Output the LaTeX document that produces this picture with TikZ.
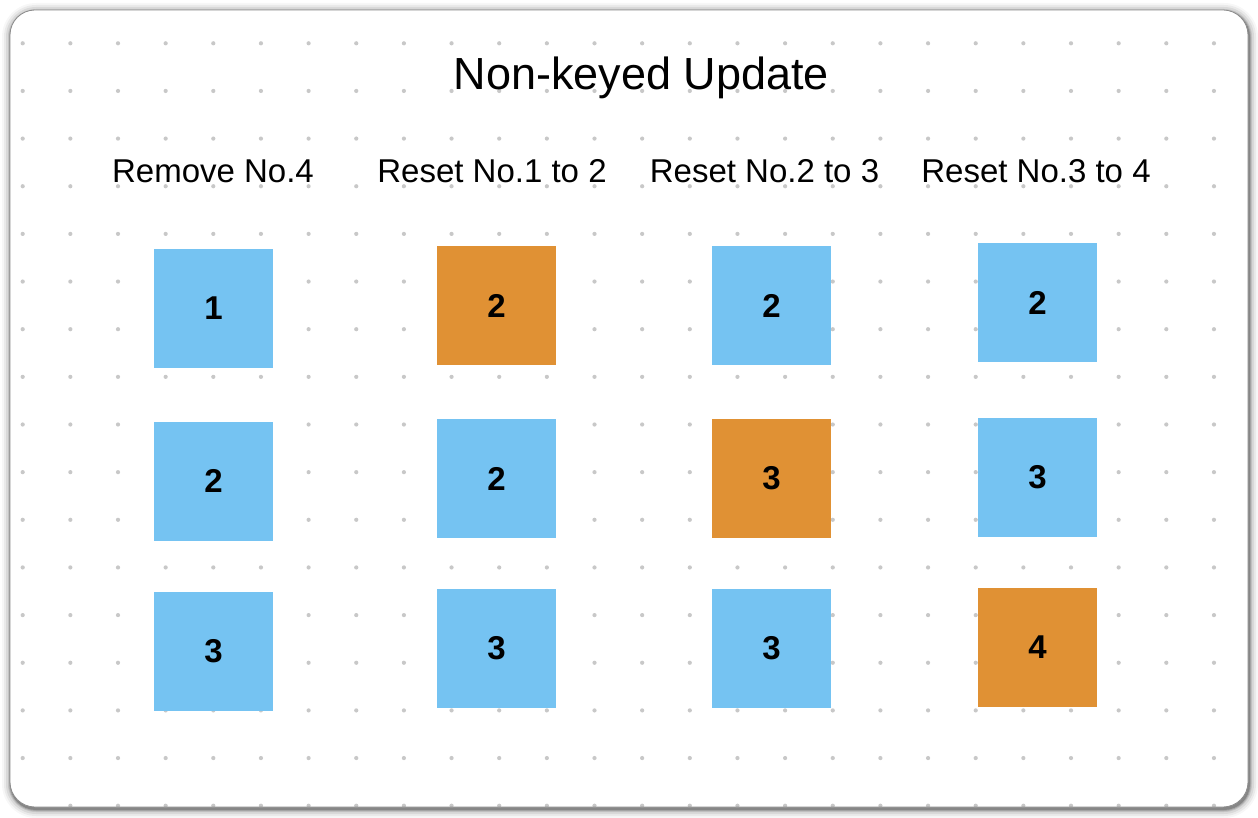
\documentclass[tikz,border=0pt]{standalone}
\usepackage{fontspec}
\setmainfont{Liberation Sans}
\definecolor{boxblue}{RGB}{117,195,242}
\definecolor{boxorange}{RGB}{224,145,52}
\definecolor{dotgray}{RGB}{200,200,200}
\definecolor{edgegray}{RGB}{140,140,140}
\tikzset{
  sqbox/.style={rectangle, minimum size=119pt, inner sep=0pt, fill=#1,
    font=\fontsize{33}{38}\selectfont\bfseries, text=black},
  collabel/.style={anchor=base, inner sep=0pt, font=\fontsize{33}{38}\selectfont},
  titlelabel/.style={anchor=base, inner sep=0pt, font=\fontsize{45}{52}\selectfont},
  griddot/.style={fill=dotgray}
}
\begin{document}
\begin{tikzpicture}[x=1pt,y=-1pt]
\useasboundingbox (0,0) rectangle (1258,818);
% shadow
\foreach \e/\r/\o in {9/34/0.03,7/32/0.05,5/30/0.07,3/28/0.10,2/27/0.14,1/26/0.2}
  \fill[black,opacity=\o,rounded corners=\r pt] (10-\e+1,10-\e+2) rectangle (1248+\e+1,807+\e+2);
% card
\fill[white,rounded corners=25pt] (10,10) rectangle (1248,807);
\begin{scope}
  \clip[rounded corners=25pt] (10,10) rectangle (1248,807);
  \foreach \i in {0,...,25}
    \foreach \j in {0,...,16}
      \fill[griddot] (22.7+47.65*\i,43.3+47.65*\j) circle (2.1);
\end{scope}
\draw[edgegray,line width=0.8pt,rounded corners=25pt] (10,10) rectangle (1248,807);
% title
\node[titlelabel] (title) at (641.5,89.3) {Non-keyed Update};
% column labels
\node[collabel] (l1) at (213,182.5) {Remove No.4};
\node[collabel] (l2) at (492,182.5) {Reset No.1 to 2};
\node[collabel] (l3) at (764.5,182.5) {Reset No.2 to 3};
\node[collabel] (l4) at (1036,182.5) {Reset No.3 to 4};
% column 1
\node[sqbox=boxblue] (a1) at (213.5,308.5) {1};
\node[sqbox=boxblue] (a2) at (213.5,481) {2};
\node[sqbox=boxblue] (a3) at (213.5,651.5) {3};
% column 2
\node[sqbox=boxorange] (b1) at (496.5,305.5) {2};
\node[sqbox=boxblue] (b2) at (496.5,478.5) {2};
\node[sqbox=boxblue] (b3) at (496.5,648.5) {3};
% column 3
\node[sqbox=boxblue] (c1) at (771.5,305.5) {2};
\node[sqbox=boxorange] (c2) at (771.5,478.5) {3};
\node[sqbox=boxblue] (c3) at (771.5,648.5) {3};
% column 4
\node[sqbox=boxblue] (d1) at (1037.5,302.5) {2};
\node[sqbox=boxblue] (d2) at (1037.5,477.5) {3};
\node[sqbox=boxorange] (d3) at (1037.5,647.5) {4};
\end{tikzpicture}
\end{document}
